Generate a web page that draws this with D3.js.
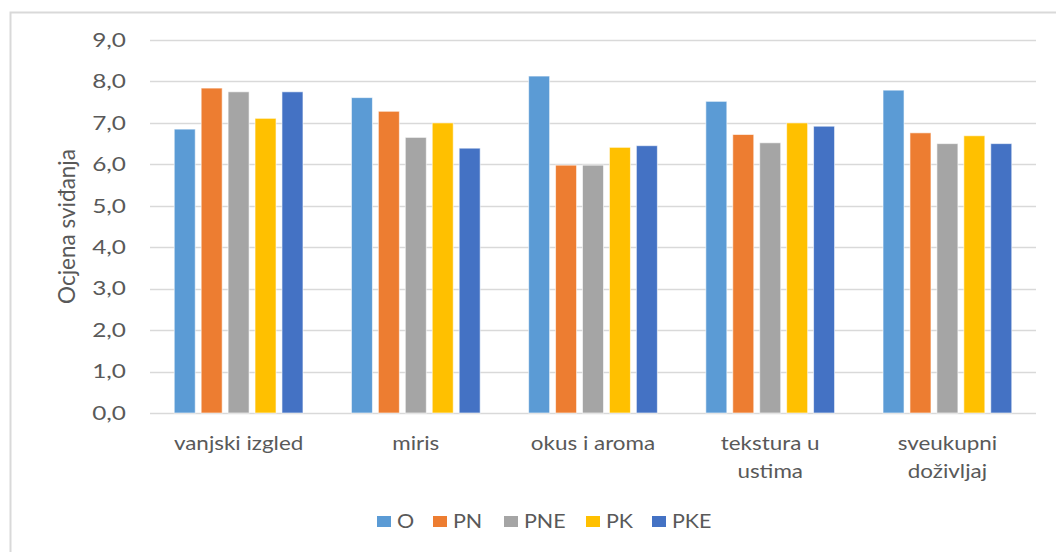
<!DOCTYPE html>
<html>
<head>
<meta charset="utf-8">
<script src="https://cdn.jsdelivr.net/npm/d3@7"></script>
<style>
  body { margin: 0; background: #fff; }
  svg { display: block; font-family: Lato, "Open Sans", sans-serif; }
</style>
</head>
<body>
<div id="chart"></div>
<script>
// categories and series
const categories = ["vanjski izgled", "miris", "okus i aroma", "tekstura u ustima", "sveukupni doživljaj"];
const catLines = [["vanjski izgled"], ["miris"], ["okus i aroma"], ["tekstura u", "ustima"], ["sveukupni", "doživljaj"]];
const seriesNames = ["O", "PN", "PNE", "PK", "PKE"];
const seriesColors = ["#5B9BD5", "#ED7D31", "#A5A5A5", "#FFC000", "#4472C4"];

const O   = [6.85, 7.61, 8.13, 7.52, 7.79];
const PN  = [7.84, 7.28, 5.98, 6.72, 6.76];
const PNE = [7.75, 6.65, 5.98, 6.52, 6.50];
const PK  = [7.11, 7.00, 6.41, 7.00, 6.69];
const PKE = [7.75, 6.39, 6.45, 6.92, 6.50];
const seriesValues = [O, PN, PNE, PK, PKE];

const yTicks = [0, 1, 2, 3, 4, 5, 6, 7, 8, 9];

const width = 1056, height = 552;
const margin = { top: 40, right: 20, bottom: 139, left: 150 };
const textColor = "#595959";

const svg = d3.select("#chart").append("svg")
  .attr("width", width)
  .attr("height", height);

// chart frame
svg.append("rect")
  .attr("x", 10.5).attr("y", 12.5)
  .attr("width", 1070).attr("height", 570)
  .attr("fill", "none")
  .attr("stroke", "#d9d9d9")
  .attr("stroke-width", 2);

const x0 = d3.scaleBand()
  .domain(categories)
  .range([margin.left, width - margin.right])
  .paddingInner(0.24)
  .paddingOuter(0.12);

const x1 = d3.scaleBand()
  .domain(seriesNames)
  .range([0, x0.bandwidth()])
  .paddingInner(0.22)
  .paddingOuter(0.11);

const y = d3.scaleLinear()
  .domain([0, 9])
  .range([height - margin.bottom, margin.top]);

// gridlines
svg.append("g")
  .selectAll("line")
  .data(yTicks)
  .join("line")
  .attr("x1", margin.left)
  .attr("x2", width - margin.right)
  .attr("y1", d => Math.round(y(d)) + 0.5)
  .attr("y2", d => Math.round(y(d)) + 0.5)
  .attr("stroke", "#d9d9d9")
  .attr("stroke-width", 1.5);

// y tick labels (text in the picture is a bit wider than tall)
svg.append("g")
  .selectAll("text")
  .data(yTicks)
  .join("text")
  .attr("transform", d => `translate(126,${y(d)}) scale(1.25,1)`)
  .attr("dy", "0.35em")
  .attr("text-anchor", "end")
  .attr("fill", textColor)
  .attr("font-size", "19.5px")
  .text(d => d3.format(".1f")(d).replace(".", ","));

// y axis title
svg.append("text")
  .attr("transform", `translate(75,${(y(0) + y(9)) / 2}) rotate(-90)`)
  .attr("text-anchor", "middle")
  .attr("fill", textColor)
  .attr("font-size", "22.5px")
  .text("Ocjena sviđanja");

// bars
const rows = [];
categories.forEach((c, i) => {
  seriesNames.forEach((s, j) => {
    rows.push({ cat: c, series: s, value: seriesValues[j][i], color: seriesColors[j] });
  });
});

svg.append("g")
  .selectAll("rect")
  .data(rows)
  .join("rect")
  .attr("x", d => x0(d.cat) + x1(d.series))
  .attr("y", d => y(d.value))
  .attr("width", x1.bandwidth())
  .attr("height", d => y(0) - y(d.value))
  .attr("fill", d => d.color)
  .attr("stroke", "#fff")
  .attr("stroke-opacity", 0.6)
  .attr("stroke-width", 1);

// x category labels
const xl = svg.append("g")
  .selectAll("text")
  .data(categories)
  .join("text")
  .attr("transform", d => `translate(${x0(d) + x0.bandwidth() / 2},450) scale(1.15,1)`)
  .attr("text-anchor", "middle")
  .attr("fill", textColor)
  .attr("font-size", "19.5px");

xl.selectAll("tspan")
  .data((d, i) => catLines[i])
  .join("tspan")
  .attr("x", 0)
  .attr("dy", (d, i) => i === 0 ? 0 : 28)
  .text(d => d);

// legend
const legendX = [377, 433, 504, 586, 652];
const legend = svg.append("g")
  .selectAll("g")
  .data(seriesNames)
  .join("g")
  .attr("transform", (d, i) => `translate(${legendX[i]},516)`);

legend.append("rect")
  .attr("width", 14).attr("height", 11)
  .attr("fill", (d, i) => seriesColors[i]);

legend.append("text")
  .attr("transform", "translate(20,5.5) scale(1.1,1)")
  .attr("dy", "0.35em")
  .attr("fill", textColor)
  .attr("font-size", "19.5px")
  .text(d => d);
</script>
</body>
</html>
